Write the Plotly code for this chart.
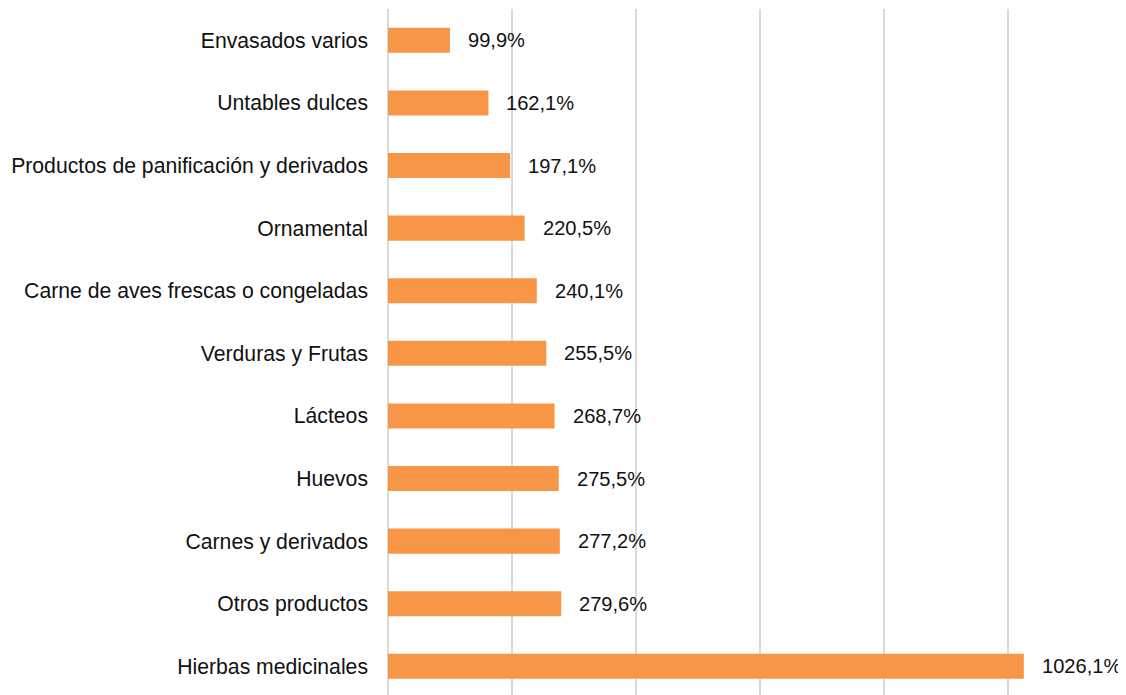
import plotly.graph_objects as go

categories = [
    "Hierbas medicinales",
    "Otros productos",
    "Carnes y derivados",
    "Huevos",
    "Lácteos",
    "Verduras y Frutas",
    "Carne de aves frescas o congeladas",
    "Ornamental",
    "Productos de panificación y derivados",
    "Untables dulces",
    "Envasados varios",
]
values = [1026.1, 279.6, 277.2, 275.5, 268.7, 255.5, 240.1, 220.5, 197.1, 162.1, 99.9]
labels = [f"{v:.1f}".replace(".", ",") + "%" for v in values]

FONT = "Liberation Sans, Arial, Helvetica, sans-serif"
FS = 21.2
FS_LBL = 20.1

fig = go.Figure(
    go.Bar(
        x=values,
        y=categories,
        orientation="h",
        marker=dict(color="#F79646", line=dict(width=0)),
        width=0.4,
        hoverinfo="skip",
    )
)

for c, v, t in zip(categories, values, labels):
    fig.add_annotation(
        x=v, y=c, text=t, showarrow=False, xanchor="left", yanchor="middle",
        xshift=16, font=dict(family=FONT, size=FS_LBL, color="#111111"),
    )

fig.update_layout(
    width=1126,
    height=687,
    margin=dict(l=380, r=8, t=1, b=0, autoexpand=False),
    plot_bgcolor="white",
    paper_bgcolor="white",
    showlegend=False,
    font=dict(family=FONT, size=FS, color="#111111"),
)
fig.update_xaxes(
    range=[0, 1191],
    tickvals=[0, 200, 400, 600, 800, 1000],
    showticklabels=False,
    showgrid=True,
    gridcolor="#DADADA",
    gridwidth=2,
    zeroline=True,
    zerolinecolor="#DADADA",
    zerolinewidth=2,
    showline=False,
    fixedrange=True,
)
fig.update_yaxes(
    range=[-0.458, 10.5],
    showgrid=False,
    showline=False,
    zeroline=False,
    ticks="",
    ticklabelstandoff=19,
    tickfont=dict(family=FONT, size=FS, color="#111111"),
)

fig.write_html("out.html")
